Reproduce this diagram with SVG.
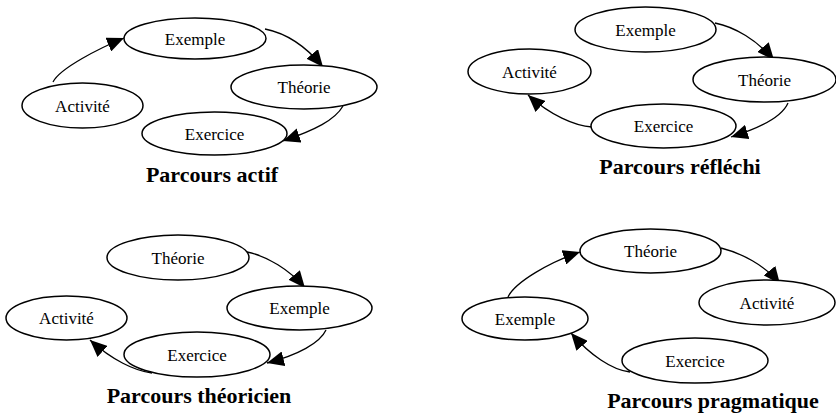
<svg xmlns="http://www.w3.org/2000/svg" width="836" height="415" viewBox="0 0 836 415">
<style>
.n ellipse{fill:#fff;stroke:#000;stroke-width:1.5}
.n text{font-family:"Liberation Serif","Times New Roman",serif;font-size:17px;text-anchor:middle;fill:#000}
.t{font-family:"Liberation Serif","Times New Roman",serif;font-size:22px;font-weight:bold;text-anchor:middle;fill:#000}
#edges path{fill:none;stroke:#000;stroke-width:1.3;marker-end:url(#ah)}
</style>
<defs>
<marker id="ah" markerUnits="userSpaceOnUse" viewBox="0 0 17 15" refX="17" refY="7.5" markerWidth="17" markerHeight="15" orient="auto">
<path d="M0,0 L17,7.5 L0,15 z" fill="#000"/>
</marker>
</defs>
<rect width="836" height="415" fill="#fff"/>
<g id="edges">
<path d="M53,82 C60,68 100,48 124,38"/>
<path d="M265,29 C285,33 305,45 323,67"/>
<path d="M343,106 C335,120 315,130 283,141"/>
<path d="M715,23 C735,27 757,40 774,60"/>
<path d="M788,103 C782,117 760,128 731,137"/>
<path d="M592,127 C575,126 550,115 528,95"/>
<path d="M247,252 C267,256 290,270 305,288"/>
<path d="M326,330 C320,343 298,355 267,363"/>
<path d="M152,373 C135,371 112,360 90,340"/>
<path d="M508,297 C515,282 550,262 580,252"/>
<path d="M721,248 C741,253 765,265 780,284"/>
<path d="M630,372 C612,370 590,355 571,333"/>
</g>
<g id="p1-exemple" class="n"><ellipse cx="195" cy="38.5" rx="71" ry="20.5"/><text x="195" y="44.5">Exemple</text></g>
<g id="p1-theorie" class="n"><ellipse cx="304" cy="87" rx="73" ry="22"/><text x="304" y="93">Théorie</text></g>
<g id="p1-activite" class="n"><ellipse cx="82.5" cy="105.5" rx="60.5" ry="22.5"/><text x="82.5" y="111.5">Activité</text></g>
<g id="p1-exercice" class="n"><ellipse cx="214.5" cy="133.5" rx="72.5" ry="21.5"/><text x="214.5" y="139.5">Exercice</text></g>
<text class="t" x="212" y="182">Parcours actif</text>
<g id="p2-exemple" class="n"><ellipse cx="645.5" cy="29.5" rx="70.5" ry="22.5"/><text x="645.5" y="35.5">Exemple</text></g>
<g id="p2-theorie" class="n"><ellipse cx="764.5" cy="79.5" rx="71.5" ry="22.5"/><text x="764.5" y="85.5">Théorie</text></g>
<g id="p2-activite" class="n"><ellipse cx="529.5" cy="71.5" rx="61.5" ry="22.5"/><text x="529.5" y="77.5">Activité</text></g>
<g id="p2-exercice" class="n"><ellipse cx="663.5" cy="126" rx="72.5" ry="22"/><text x="663.5" y="132">Exercice</text></g>
<text class="t" x="680" y="174">Parcours réfléchi</text>
<g id="p3-theorie" class="n"><ellipse cx="178" cy="257.5" rx="71" ry="22.5"/><text x="178" y="263.5">Théorie</text></g>
<g id="p3-exemple" class="n"><ellipse cx="299.5" cy="308" rx="72.5" ry="22"/><text x="299.5" y="314">Exemple</text></g>
<g id="p3-activite" class="n"><ellipse cx="66.5" cy="318" rx="60.5" ry="22"/><text x="66.5" y="324">Activité</text></g>
<g id="p3-exercice" class="n"><ellipse cx="197" cy="354.5" rx="73" ry="22.5"/><text x="197" y="360.5">Exercice</text></g>
<text class="t" x="199" y="403">Parcours théoricien</text>
<g id="p4-theorie" class="n"><ellipse cx="650.5" cy="251" rx="70.5" ry="22"/><text x="650.5" y="257">Théorie</text></g>
<g id="p4-activite" class="n"><ellipse cx="767" cy="302.5" rx="68" ry="22.5"/><text x="767" y="308.5">Activité</text></g>
<g id="p4-exemple" class="n"><ellipse cx="525" cy="318.5" rx="63" ry="21.5"/><text x="525" y="324.5">Exemple</text></g>
<g id="p4-exercice" class="n"><ellipse cx="695" cy="360.5" rx="73" ry="22.5"/><text x="695" y="366.5">Exercice</text></g>
<text class="t" x="713" y="408">Parcours pragmatique</text>
</svg>
